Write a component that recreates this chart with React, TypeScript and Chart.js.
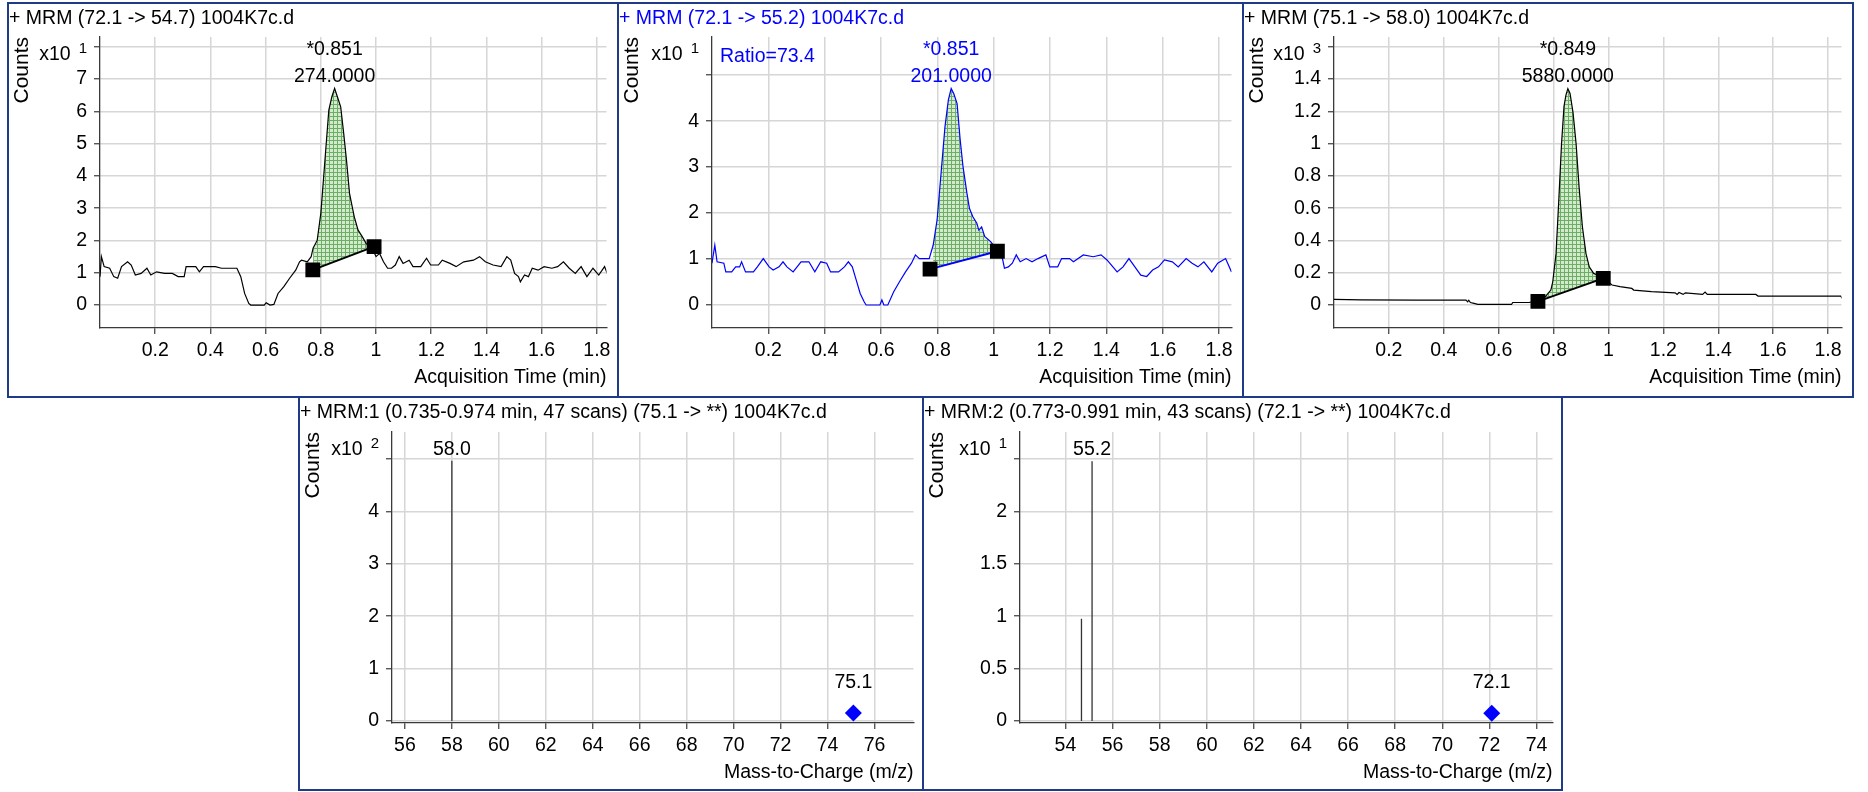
import React, { useEffect, useRef } from "react";
import { Chart, registerables } from "chart.js";
Chart.register(...registerables);

const FONT_FAMILY = "'Liberation Sans', Arial, Helvetica, sans-serif";
const BLACK = "#000000";
const BLUE = "#0000ff";
const BORDER = "#1f3a86";
const GRID = "#d6d6d6";
const AXIS = "#3a3a3a";

// ---------------- DATA ----------------
const timeTicks = [0.2, 0.4, 0.6, 0.8, 1.0, 1.2, 1.4, 1.6, 1.8];
const timeTickLabels = ["0.2", "0.4", "0.6", "0.8", "1", "1.2", "1.4", "1.6", "1.8"];

// Panel 1: + MRM (72.1 -> 54.7)
const p1Title = "+ MRM (72.1 -> 54.7) 1004K7c.d";
const p1Trace = [
  [0, 0.88], [0.005, 1.5], [0.015, 1.19], [0.035, 1.14], [0.05, 0.88], [0.064, 0.83], [0.078, 1.19], [0.1, 1.34],
  [0.113, 1.24], [0.128, 0.93], [0.149, 0.98], [0.17, 1.14], [0.184, 0.93], [0.205, 1.03], [0.234, 0.98], [0.262, 0.98],
  [0.283, 0.88], [0.305, 0.88], [0.312, 1.19], [0.347, 1.19], [0.36, 1.03], [0.375, 1.19], [0.418, 1.19], [0.44, 1.14],
  [0.496, 1.14], [0.51, 0.88], [0.524, 0.36], [0.539, 0.05], [0.546, 0], [0.595, 0], [0.602, 0.07], [0.616, 0],
  [0.63, 0.02], [0.645, 0.36], [0.666, 0.57], [0.687, 0.83], [0.709, 1.08], [0.723, 1.34], [0.73, 1.39], [0.751, 1.34],
  [0.765, 1.5], [0.772, 1.76], [0.787, 2.01], [0.8, 2.84], [0.815, 4.49], [0.829, 6.04], [0.84, 6.45], [0.85, 6.71],
  [0.86, 6.45], [0.872, 6.14], [0.883, 5.31], [0.893, 4.49], [0.904, 3.46], [0.921, 2.74], [0.935, 2.32], [0.95, 2.12],
  [0.964, 1.91], [0.978, 1.81], [0.992, 1.65], [1.0, 1.5], [1.013, 1.6], [1.027, 1.34], [1.042, 1.14], [1.056, 1.14],
  [1.07, 1.24], [1.084, 1.5], [1.098, 1.29], [1.12, 1.39], [1.134, 1.19], [1.162, 1.19], [1.183, 1.45], [1.198, 1.24],
  [1.226, 1.24], [1.24, 1.39], [1.268, 1.29], [1.29, 1.19], [1.318, 1.34], [1.353, 1.39], [1.375, 1.5], [1.396, 1.34],
  [1.424, 1.24], [1.453, 1.19], [1.474, 1.5], [1.488, 1.39], [1.502, 0.98], [1.516, 0.88], [1.523, 0.72], [1.538, 0.93],
  [1.552, 0.88], [1.566, 1.14], [1.587, 1.08], [1.609, 1.19], [1.637, 1.14], [1.658, 1.19], [1.679, 1.34], [1.7, 1.14],
  [1.722, 0.98], [1.743, 1.19], [1.764, 0.88], [1.786, 1.14], [1.807, 0.93], [1.828, 1.19], [1.842, 0.88],
];
const p1Baseline = [[0.771, 1.09], [0.993, 1.81]];
const p1PeakText = ["*0.851", "274.0000"];
const p1YTicks = [0, 1, 2, 3, 4, 5, 6, 7, 8];
const p1YLabels = ["0", "1", "2", "3", "4", "5", "6", "7", ""];
const p1Exp = "1";

// Panel 2: + MRM (72.1 -> 55.2)
const p2Title = "+ MRM (72.1 -> 55.2) 1004K7c.d";
const p2Trace = [
  [0, 0.91], [0.01, 1.3], [0.018, 0.94], [0.042, 0.91], [0.049, 0.72], [0.07, 0.72], [0.084, 0.83], [0.098, 0.83],
  [0.105, 0.94], [0.119, 0.72], [0.147, 0.72], [0.161, 0.83], [0.182, 1.01], [0.203, 0.83], [0.217, 0.76], [0.238, 0.83],
  [0.252, 0.94], [0.266, 0.83], [0.288, 0.72], [0.302, 0.83], [0.316, 0.94], [0.344, 0.94], [0.365, 0.72], [0.386, 0.94],
  [0.407, 0.91], [0.421, 0.72], [0.449, 0.72], [0.47, 0.83], [0.484, 0.94], [0.498, 0.83], [0.512, 0.54], [0.526, 0.25],
  [0.54, 0.07], [0.547, 0], [0.596, 0], [0.603, 0.11], [0.61, 0], [0.624, 0], [0.645, 0.29], [0.666, 0.51],
  [0.687, 0.72], [0.708, 0.91], [0.722, 1.09], [0.736, 1.01], [0.771, 1.01], [0.785, 1.3], [0.799, 1.85], [0.813, 2.86],
  [0.827, 3.88], [0.839, 4.46], [0.849, 4.71], [0.858, 4.6], [0.87, 4.38], [0.881, 3.59], [0.891, 3.01], [0.905, 2.43],
  [0.914, 2.1], [0.926, 1.92], [0.94, 1.78], [0.947, 1.63], [0.957, 1.7], [0.968, 1.49], [0.989, 1.38], [1.003, 1.27],
  [1.017, 1.12], [1.031, 1.01], [1.038, 0.8], [1.052, 0.83], [1.066, 0.91], [1.08, 1.09], [1.094, 0.94], [1.115, 1.01],
  [1.136, 0.94], [1.157, 1.01], [1.185, 1.09], [1.199, 0.83], [1.227, 0.83], [1.241, 1.01], [1.269, 1.01], [1.283, 0.94],
  [1.318, 1.09], [1.353, 1.05], [1.381, 1.09], [1.402, 0.98], [1.423, 0.83], [1.438, 0.72], [1.459, 0.83], [1.48, 1.01],
  [1.501, 0.83], [1.522, 0.65], [1.543, 0.62], [1.564, 0.76], [1.585, 0.83], [1.606, 0.98], [1.634, 0.94], [1.655, 0.83],
  [1.683, 1.01], [1.704, 0.91], [1.725, 0.83], [1.746, 0.94], [1.774, 0.72], [1.795, 0.91], [1.823, 1.01], [1.844, 0.72],
];
const p2Baseline = [[0.774, 0.78], [1.013, 1.17]];
const p2PeakText = ["*0.851", "201.0000"];
const p2Ratio = "Ratio=73.4";
const p2YTicks = [0, 1, 2, 3, 4, 5];
const p2YLabels = ["0", "1", "2", "3", "4", ""];
const p2Exp = "1";

// Panel 3: + MRM (75.1 -> 58.0)
const p3Title = "+ MRM (75.1 -> 58.0) 1004K7c.d";
const p3Trace = [
  [0, 0.035], [0.1, 0.032], [0.3, 0.031], [0.481, 0.031], [0.487, 0.02], [0.491, 0.03], [0.497, 0.016], [0.51, 0.01],
  [0.524, 0.004], [0.647, 0.004], [0.651, 0.016], [0.711, 0.016], [0.74, 0.027], [0.769, 0.05], [0.79, 0.093], [0.797, 0.144],
  [0.809, 0.32], [0.819, 0.65], [0.829, 1.0], [0.838, 1.23], [0.845, 1.3], [0.852, 1.34], [0.86, 1.31], [0.871, 1.19],
  [0.882, 1.0], [0.893, 0.73], [0.905, 0.485], [0.918, 0.32], [0.93, 0.237], [0.946, 0.196], [0.968, 0.18], [0.991, 0.155],
  [1.013, 0.124], [1.042, 0.114], [1.085, 0.103], [1.092, 0.093], [1.157, 0.083], [1.243, 0.076], [1.25, 0.066], [1.257, 0.078],
  [1.272, 0.066], [1.28, 0.076], [1.343, 0.066], [1.352, 0.08], [1.36, 0.066], [1.537, 0.066], [1.545, 0.056], [1.846, 0.056],
  [1.853, 0.037],
];
const p3Baseline = [[0.743, 0.023], [0.981, 0.165]];
const p3PeakText = ["*0.849", "5880.0000"];
const p3YTicks = [0, 0.2, 0.4, 0.6, 0.8, 1.0, 1.2, 1.4, 1.6];
const p3YLabels = ["0", "0.2", "0.4", "0.6", "0.8", "1", "1.2", "1.4", ""];
const p3Exp = "3";

// Panel 4: MRM:1 spectrum
const p4Title = "+ MRM:1 (0.735-0.974 min, 47 scans) (75.1 -> **) 1004K7c.d";
const p4Mz = [58.0];
const p4Abund = [4.97];
const p4Labels = ["58.0"];
const p4PrecursorMz = [75.1];
const p4PrecursorAbund = [0.15];
const p4PrecursorLabels = ["75.1"];
const p4XTicks = [56, 58, 60, 62, 64, 66, 68, 70, 72, 74, 76];
const p4YTicks = [0, 1, 2, 3, 4, 5];
const p4YLabels = ["0", "1", "2", "3", "4", ""];
const p4Exp = "2";

// Panel 5: MRM:2 spectrum
const p5Title = "+ MRM:2 (0.773-0.991 min, 43 scans) (72.1 -> **) 1004K7c.d";
const p5Mz = [54.68, 55.13];
const p5Abund = [0.975, 2.48];
const p5Labels = ["", "55.2"];
const p5PrecursorMz = [72.1];
const p5PrecursorAbund = [0.074];
const p5PrecursorLabels = ["72.1"];
const p5XTicks = [54, 56, 58, 60, 62, 64, 66, 68, 70, 72, 74];
const p5YTicks = [0, 0.5, 1, 1.5, 2, 2.5];
const p5YLabels = ["0", "0.5", "1", "1.5", "2", ""];
const p5Exp = "1";

// ---------------- HELPERS ----------------
const font = (size: number) => ({ family: FONT_FAMILY, size, weight: "normal" as const, lineHeight: 1.2 });

function makeHatch(): any {
  const c = document.createElement("canvas");
  c.width = 4;
  c.height = 4;
  const g = c.getContext("2d")!;
  g.fillStyle = "#d3ebcc";
  g.fillRect(0, 0, 4, 4);
  g.fillStyle = "#6cae66";
  g.fillRect(0, 0, 4, 1);
  g.fillRect(0, 0, 1, 4);
  return g.createPattern(c, "repeat");
}

const annotPlugin = {
  id: "annot",
  afterDatasetsDraw(chart: any, _args: any, opts: any) {
    const { ctx, chartArea, scales } = chart;
    const xs = scales.x;
    const ys = scales.y;
    ctx.save();
    ctx.textBaseline = "alphabetic";
    if (opts.exp) {
      ctx.fillStyle = BLACK;
      ctx.textAlign = "right";
      ctx.font = `15px ${FONT_FAMILY}`;
      const supRight = chartArea.left - 13;
      ctx.fillText(opts.exp, supRight, chartArea.top + 15.5);
      const w = ctx.measureText(opts.exp).width;
      ctx.font = `19.5px ${FONT_FAMILY}`;
      ctx.fillText("x10", supRight - w - 8, chartArea.top + 23);
    }
    (opts.labels || []).forEach((lab: any) => {
      if (!lab.lines.join("")) return;
      ctx.font = `19.5px ${FONT_FAMILY}`;
      ctx.fillStyle = lab.color;
      ctx.textAlign = "center";
      const px = xs.getPixelForValue(lab.x);
      let py = ys.getPixelForValue(lab.y) - lab.gap;
      for (let i = lab.lines.length - 1; i >= 0; i--) {
        ctx.fillText(lab.lines[i], px, py);
        py -= 26.5;
      }
    });
    if (opts.note) {
      ctx.font = `19.5px ${FONT_FAMILY}`;
      ctx.fillStyle = opts.note.color;
      ctx.textAlign = "left";
      ctx.fillText(opts.note.text, chartArea.left + 8, chartArea.top + 25);
    }
    ctx.restore();
  },
};

function axes(p: any) {
  return {
    x: {
      type: "linear",
      min: p.xMin,
      max: p.xMax,
      afterBuildTicks: (a: any) => {
        a.ticks = p.xTicks.map((v: number) => ({ value: v }));
      },
      afterFit: (a: any) => {
        a.height = p.h - p.area.b;
        a.paddingLeft = 0;
        a.paddingRight = 0;
      },
      ticks: {
        autoSkip: false,
        maxRotation: 0,
        minRotation: 0,
        font: font(19.5),
        color: BLACK,
        padding: 5,
        callback: (_v: any, i: number) => p.xLabels[i],
      },
      grid: { color: GRID, lineWidth: 1.5, tickLength: 6, tickColor: AXIS, tickWidth: 1.2 },
      border: { display: true, color: AXIS, width: 1.3 },
      title: {
        display: true,
        text: p.xTitle,
        align: "end",
        font: font(19.5),
        color: BLACK,
        padding: { top: 0, bottom: p.xTitlePad },
      },
    },
    y: {
      type: "linear",
      min: p.yMin,
      max: p.yMax,
      afterBuildTicks: (a: any) => {
        a.ticks = p.yTicks.map((v: number) => ({ value: v }));
      },
      afterFit: (a: any) => {
        a.width = p.area.l;
      },
      ticks: {
        autoSkip: false,
        font: font(19.5),
        color: BLACK,
        padding: 7,
        callback: (_v: any, i: number) => p.yLabels[i],
      },
      grid: { color: GRID, lineWidth: 1.5, tickLength: 6, tickColor: AXIS, tickWidth: 1.2 },
      border: { display: true, color: AXIS, width: 1.3 },
      title: {
        display: true,
        text: "Counts",
        align: "end",
        font: font(21),
        color: BLACK,
        padding: { top: 1, bottom: 0 },
      },
    },
  };
}

function baseOptions(p: any) {
  return {
    responsive: false,
    animation: false,
    events: [],
    layout: { padding: { left: 0, top: 0, bottom: 0, right: p.w - p.area.r } },
    plugins: {
      legend: { display: false },
      tooltip: { enabled: false },
      filler: { drawTime: "beforeDatasetsDraw" },
      title: {
        display: true,
        text: p.title,
        align: "start",
        color: p.titleColor,
        font: font(19.5),
        padding: { top: p.titlePadTop, bottom: p.area.t - 23.4 - p.titlePadTop },
      },
      annot: {
        exp: p.exp,
        labels: p.labels,
        note: p.note,
      },
    },
    scales: axes(p),
  };
}

function chromConfig(p: any): any {
  const toPts = (arr: number[][]) => arr.map((d) => ({ x: d[0], y: d[1] }));
  const t0 = p.baseline[0][0];
  const t1 = p.baseline[p.baseline.length - 1][0];
  const peakPts = p.trace.filter((d: number[]) => d[0] >= t0 && d[0] <= t1);
  let apex = p.trace[0];
  p.trace.forEach((d: number[]) => {
    if (d[1] > apex[1]) apex = d;
  });
  const labels = [{ x: apex[0], y: apex[1], lines: p.peakText, color: p.textColor, gap: 6.7 }];
  return {
    type: "line",
    data: {
      datasets: [
        {
          data: toPts(peakPts),
          borderWidth: 0,
          borderColor: "rgba(0,0,0,0)",
          pointRadius: 0,
          backgroundColor: p.hatch,
          fill: { target: 2 },
          order: 2,
        },
        {
          data: toPts(p.trace),
          borderColor: p.lineColor,
          borderWidth: 1.2,
          pointRadius: 0,
          fill: false,
          tension: 0,
          order: 1,
        },
        {
          data: toPts(p.baseline),
          borderColor: p.lineColor,
          borderWidth: 2,
          pointStyle: "rect",
          pointRadius: 10.5,
          pointBackgroundColor: BLACK,
          pointBorderColor: BLACK,
          pointBorderWidth: 0,
          fill: false,
          order: 0,
        },
      ],
    },
    options: baseOptions({ ...p, labels, xTicks: timeTicks, xLabels: timeTickLabels, xTitle: "Acquisition Time (min)" }),
    plugins: [annotPlugin],
  };
}

function specConfig(p: any): any {
  const sticks = p.mz.map((m: number, i: number) => ({
    data: [
      { x: m, y: 0 },
      { x: m, y: p.abund[i] },
    ],
    borderColor: "#333333",
    borderWidth: 1.3,
    pointRadius: 0,
    fill: false,
    order: 1,
  }));
  const prec = {
    data: p.precMz.map((m: number, i: number) => ({ x: m, y: p.precAbund[i] })),
    showLine: false,
    pointStyle: "rectRot",
    pointRadius: 8.5,
    pointBackgroundColor: BLUE,
    pointBorderColor: BLUE,
    pointBorderWidth: 0,
    order: 0,
  };
  const labels = [
    ...p.mz.map((m: number, i: number) => ({ x: m, y: p.abund[i], lines: [p.labels[i]], color: BLACK, gap: 6 })),
    ...p.precMz.map((m: number, i: number) => ({ x: m, y: p.precAbund[i], lines: [p.precLabels[i]], color: BLACK, gap: 25 })),
  ];
  const xLabels = p.xTicks.map((v: number) => String(v));
  return {
    type: "line",
    data: { datasets: [...sticks, prec] },
    options: baseOptions({ ...p, labels, xLabels, xTitle: "Mass-to-Charge (m/z)" }),
    plugins: [annotPlugin],
  };
}

// ---------------- LAYOUT ----------------
const panels: any[] = [
  {
    box: { left: 7, top: 2, width: 612, height: 396 },
    make: () =>
      chromConfig({
        title: p1Title, titleColor: BLACK, textColor: BLACK, lineColor: BLACK,
        trace: p1Trace, baseline: p1Baseline, peakText: p1PeakText,
        yTicks: p1YTicks, yLabels: p1YLabels, exp: p1Exp,
        xMin: 0, xMax: 1.835, yMin: -0.71, yMax: 8.3,
        w: 608, h: 392, area: { l: 91, r: 606, t: 33, b: 324 }, titlePadTop: 2.6, xTitlePad: 6.3,
        hatch: makeHatch(),
      }),
  },
  {
    box: { left: 617, top: 2, width: 627, height: 396 },
    make: () =>
      chromConfig({
        title: p2Title, titleColor: BLUE, textColor: BLUE, lineColor: BLUE,
        trace: p2Trace, baseline: p2Baseline, peakText: p2PeakText,
        yTicks: p2YTicks, yLabels: p2YLabels, exp: p2Exp,
        note: { text: p2Ratio, color: BLUE },
        xMin: 0, xMax: 1.844, yMin: -0.5, yMax: 5.83,
        w: 623, h: 392, area: { l: 93, r: 622, t: 33, b: 324 }, titlePadTop: 2.6, xTitlePad: 6.3,
        hatch: makeHatch(),
      }),
  },
  {
    box: { left: 1242, top: 2, width: 612, height: 396 },
    make: () =>
      chromConfig({
        title: p3Title, titleColor: BLACK, textColor: BLACK, lineColor: BLACK,
        trace: p3Trace, baseline: p3Baseline, peakText: p3PeakText,
        yTicks: p3YTicks, yLabels: p3YLabels, exp: p3Exp,
        xMin: 0, xMax: 1.849, yMin: -0.142, yMax: 1.66,
        w: 608, h: 392, area: { l: 90, r: 607, t: 33, b: 324 }, titlePadTop: 2.6, xTitlePad: 6.3,
        hatch: makeHatch(),
      }),
  },
  {
    box: { left: 298, top: 396, width: 626, height: 395 },
    make: () =>
      specConfig({
        title: p4Title, titleColor: BLACK,
        mz: p4Mz, abund: p4Abund, labels: p4Labels,
        precMz: p4PrecursorMz, precAbund: p4PrecursorAbund, precLabels: p4PrecursorLabels,
        xTicks: p4XTicks, yTicks: p4YTicks, yLabels: p4YLabels, exp: p4Exp,
        xMin: 55.45, xMax: 77.66, yMin: -0.04, yMax: 5.52,
        w: 622, h: 391, area: { l: 92, r: 621.5, t: 34, b: 325 }, titlePadTop: 3.3, xTitlePad: 4.3,
      }),
  },
  {
    box: { left: 922, top: 396, width: 641, height: 395 },
    make: () =>
      specConfig({
        title: p5Title, titleColor: BLACK,
        mz: p5Mz, abund: p5Abund, labels: p5Labels,
        precMz: p5PrecursorMz, precAbund: p5PrecursorAbund, precLabels: p5PrecursorLabels,
        xTicks: p5XTicks, yTicks: p5YTicks, yLabels: p5YLabels, exp: p5Exp,
        xMin: 52.07, xMax: 74.68, yMin: -0.02, yMax: 2.76,
        w: 637, h: 391, area: { l: 96, r: 635.7, t: 34, b: 325 }, titlePadTop: 3.3, xTitlePad: 4.3,
      }),
  },
];

function Panel({ box, make }: { box: any; make: () => any }) {
  const ref = useRef<HTMLCanvasElement>(null);
  useEffect(() => {
    const cv = ref.current;
    if (!cv) return;
    const chart = new Chart(cv, make());
    return () => chart.destroy();
  }, []);
  const w = box.width - 4;
  const h = box.height - 4;
  return (
    <div
      style={{
        position: "absolute",
        left: box.left,
        top: box.top,
        width: box.width,
        height: box.height,
        border: `2px solid ${BORDER}`,
        boxSizing: "border-box",
        background: "#ffffff",
      }}
    >
      <canvas ref={ref} width={w} height={h} style={{ display: "block", width: w, height: h }} />
    </div>
  );
}

export default function App() {
  return (
    <div style={{ position: "fixed", left: 0, top: 0, width: 1868, height: 792, background: "#ffffff", overflow: "hidden" }}>
      {panels.map((p, i) => (
        <Panel key={i} box={p.box} make={p.make} />
      ))}
    </div>
  );
}
